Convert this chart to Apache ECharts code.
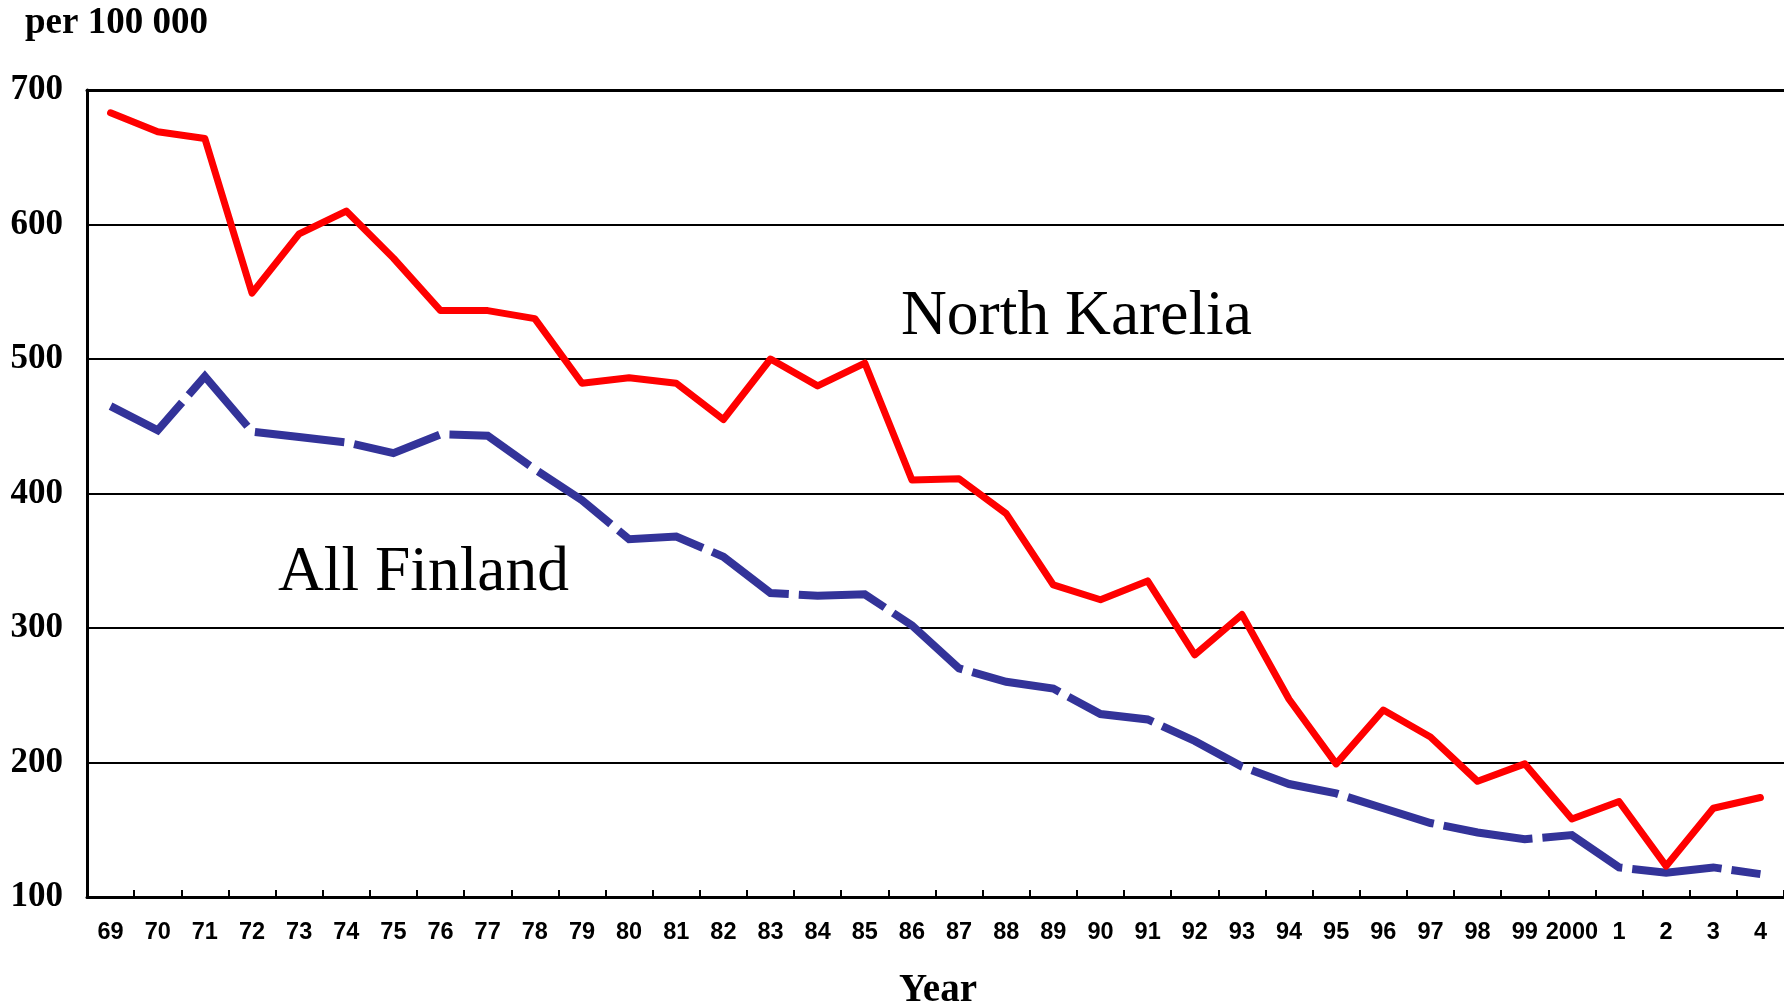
<!DOCTYPE html>
<html>
<head>
<meta charset="utf-8">
<script src="https://cdn.jsdelivr.net/npm/echarts@6/dist/echarts.min.js"></script>
<style>
html,body{margin:0;padding:0;background:#fff;}
#chart{width:1784px;height:1004px;}
</style>
</head>
<body>
<div id="chart"></div>
<script>
const years = ['69','70','71','72','73','74','75','76','77','78','79','80','81','82','83','84','85','86','87','88','89','90','91','92','93','94','95','96','97','98','99','2000','1','2','3','4'];
const northKarelia = [683,669,664,549,593,610,575,536,536,530,482,486,482,455,500,480,497,410,411,385,332,321,335,280,310,247,199,239,219,186,199,158,171,123,166,174];
const allFinland = [465,447,487,446,442,438,430,444,443,418,395,366,368,353,326,324,325,302,270,260,255,236,232,216,197,184,177,166,155,148,143,146,122,118,122,117];
const yTicks = {min:100, max:700, step:100};

const serif = '"Liberation Serif","Times New Roman",serif';
const sans = '"Liberation Sans",Arial,sans-serif';

const chart = echarts.init(document.getElementById('chart'), null, {renderer:'canvas'});
chart.setOption({
  animation:false,
  backgroundColor:'#ffffff',
  grid:{left:87, top:90, width:1700, height:807, containLabel:false},
  xAxis:[{
    type:'category',
    data:years,
    boundaryGap:true,
    axisLine:{show:true, lineStyle:{color:'#000', width:3}},
    axisTick:{show:true, inside:true, length:7, lineStyle:{color:'#000', width:2}},
    axisLabel:{color:'#000', fontFamily:sans, fontWeight:'bold', fontSize:23.5, margin:24, interval:0},
    splitLine:{show:false}
  },{
    type:'category',
    data:years,
    position:'top',
    axisLine:{show:true, lineStyle:{color:'#000', width:3}},
    axisTick:{show:false},
    axisLabel:{show:false},
    splitLine:{show:false}
  }],
  yAxis:{
    type:'value',
    min:yTicks.min, max:yTicks.max, interval:yTicks.step,
    axisLine:{show:true, lineStyle:{color:'#000', width:3}},
    axisTick:{show:false},
    axisLabel:{color:'#000', fontFamily:serif, fontWeight:'bold', fontSize:35, margin:24},
    splitLine:{show:true, lineStyle:{color:'#000', width:2}}
  },
  series:[{
    name:'All Finland',
    type:'line',
    data:allFinland,
    showSymbol:false,
    symbol:'none',
    lineStyle:{color:'#333399', width:8, type:[90,10], cap:'butt', join:'miter'},
    z:2
  },{
    name:'North Karelia',
    type:'line',
    data:northKarelia,
    showSymbol:false,
    symbol:'none',
    lineStyle:{color:'#ff0000', width:7, join:'round', cap:'round'},
    z:3
  }],
  graphic:[
    {type:'text', left:25, top:5, style:{text:'per 100 000', fontFamily:serif, fontWeight:'bold', fontSize:37, fill:'#000'}},
    {type:'text', x:938, y:991, style:{text:'Year', fontFamily:serif, fontWeight:'bold', fontSize:39, fill:'#000', align:'center', verticalAlign:'middle'}},
    {type:'text', x:901, y:317, style:{text:'North Karelia', fontFamily:serif, fontSize:63.5, fill:'#000', align:'left', verticalAlign:'middle'}},
    {type:'text', x:278, y:573, style:{text:'All Finland', fontFamily:serif, fontSize:63.5, fill:'#000', align:'left', verticalAlign:'middle'}}
  ]
});
</script>
</body>
</html>
